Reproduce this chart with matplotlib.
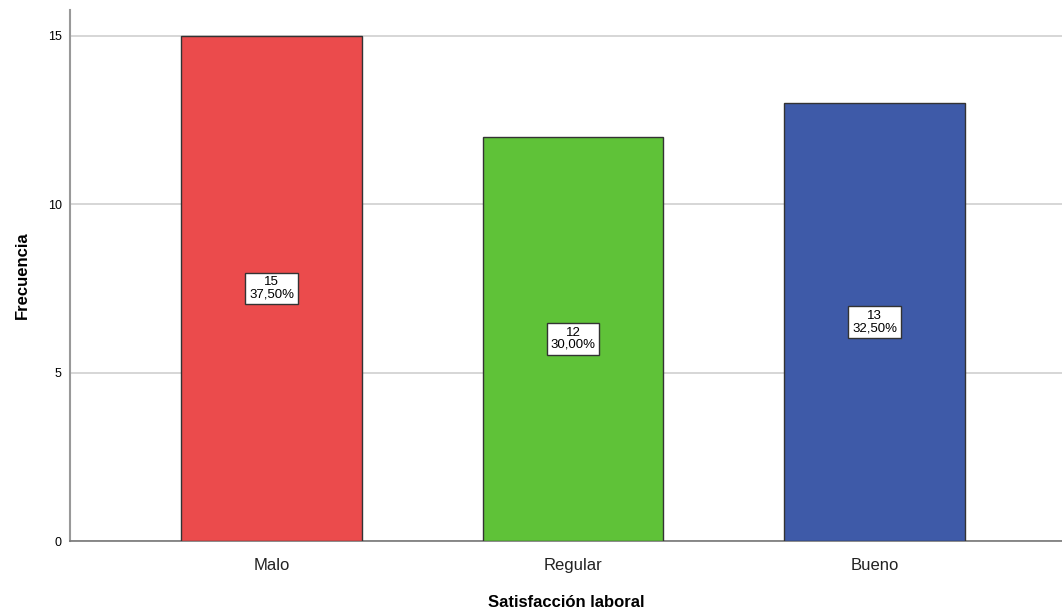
import matplotlib
matplotlib.use("Agg")
import matplotlib.pyplot as plt

categorias = ["Malo", "Regular", "Bueno"]
frecuencias = [15, 12, 13]
porcentajes = ["37,50%", "30,00%", "32,50%"]
colores = ["#EB4B4C", "#5FC238", "#3E5AA8"]
yticks = [0, 5, 10, 15]

plt.rcParams["font.family"] = ["Liberation Sans", "DejaVu Sans"]

fig = plt.figure(figsize=(10.62, 6.15), dpi=100)
ax = fig.add_axes([0.066, 0.1203, 0.934, 0.8634])

x = range(len(categorias))
ax.bar(x, frecuencias, width=0.6, color=colores, edgecolor="#333333",
       linewidth=1.0, zorder=3)

# etiquetas con frecuencia y porcentaje en el centro de cada barra
for i, (f, p) in enumerate(zip(frecuencias, porcentajes)):
    ax.text(i, f / 2, f"{f}\n{p}", ha="center", va="center", fontsize=9.5,
            linespacing=1.0, zorder=4,
            bbox=dict(boxstyle="square,pad=0.3", facecolor="white",
                      edgecolor="#333333", linewidth=1.0))

ax.set_xlim(-0.668, 2.622)
ax.set_ylim(0, 15.77)
ax.set_yticks(yticks)
ax.set_xticks(list(x))
ax.set_xticklabels(categorias, fontsize=12, color="#222222")
ax.tick_params(axis="y", length=0, labelsize=9, pad=6)
ax.tick_params(axis="x", length=0, pad=12)
ax.yaxis.grid(True, color="#D0D0D0", linewidth=1.2, zorder=0)
ax.set_axisbelow(True)

for s in ["top", "right"]:
    ax.spines[s].set_visible(False)
ax.spines["left"].set_color("#999999")
ax.spines["left"].set_linewidth(1.5)
ax.spines["bottom"].set_color("#777777")
ax.spines["bottom"].set_linewidth(1.2)

ax.set_xlabel("Satisfacción laboral", fontsize=12, fontweight="bold", labelpad=16)
ax.set_ylabel("Frecuencia", fontsize=12, fontweight="bold", labelpad=13)

fig.savefig("out.png", dpi=100, facecolor="white")
